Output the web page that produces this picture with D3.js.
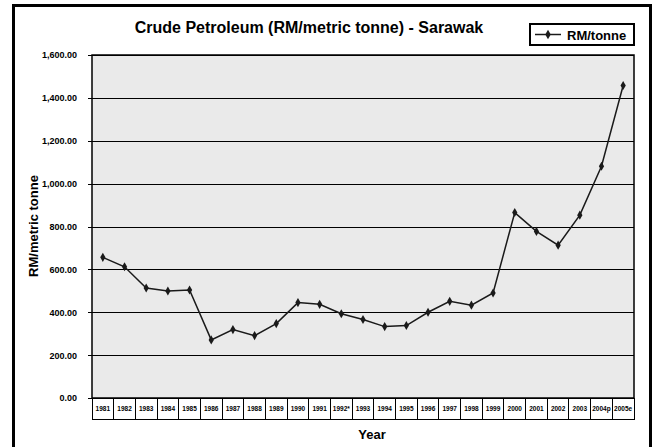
<!DOCTYPE html>
<html>
<head>
<meta charset="utf-8">
<script src="https://cdn.jsdelivr.net/npm/d3@7"></script>
<style>
body{margin:0;background:#fff;}
text{font-family:"Liberation Sans",Arial,sans-serif;font-weight:bold;fill:#000;}
</style>
</head>
<body>
<svg width="658" height="447"></svg>
<script>
// chart data
var years=['1981','1982','1983','1984','1985','1986','1987','1988','1989','1990',
	'1991','1992*','1993','1994','1995','1996','1997','1998','1999','2000',
	'2001','2002','2003','2004p','2005e'];
var prices=[656,612,513,499,504,271,319,291,347,445,
	437,393,366,333,338,400,451,433,490,865,
	777,713,853,1081,1458];
var yTicks=[0,200,400,600,800,1000,1200,1400,1600];

var pLeft=92, pRight=634, pTop=55, pBottom=398;
var svg=d3.select('svg');

// outer frame
svg.append('rect')
	.attr('x',13.5).attr('y',5.5)
	.attr('width',637).attr('height',460)
	.attr('fill','none').attr('stroke','#000').attr('stroke-width',3);

var xScale=d3.scaleBand()
	.domain(years)
	.range([pLeft,pRight])
	.padding(0);
var yScale=d3.scaleLinear()
	.domain([0,1600])
	.range([pBottom,pTop]);

// plot area
svg.append('rect')
	.attr('x',pLeft).attr('y',pTop)
	.attr('width',pRight-pLeft).attr('height',pBottom-pTop)
	.attr('fill','#eaeaea');

// gridlines
var grid=d3.axisLeft(yScale)
	.tickValues(yTicks)
	.tickSize(-(pRight-pLeft))
	.tickFormat('');
svg.append('g')
	.attr('transform','translate('+pLeft+',0)')
	.call(grid)
	.call(g=>g.select('.domain').remove())
	.call(g=>g.selectAll('line').attr('stroke','#000').attr('stroke-width',1).style('shape-rendering','crispEdges'));

// y axis with labels
var yAxis=d3.axisLeft(yScale)
	.tickValues(yTicks)
	.tickSize(4)
	.tickPadding(11)
	.tickFormat(d3.format(',.2f'));
svg.append('g')
	.attr('transform','translate('+pLeft+',0)')
	.call(yAxis)
	.call(g=>g.select('.domain').remove())
	.call(g=>g.selectAll('line').style('shape-rendering','crispEdges'))
	.call(g=>g.selectAll('text').style('font-size','9px').style('font-family','"Liberation Sans",Arial,sans-serif'));

// plot border
svg.append('rect')
	.attr('x',pLeft).attr('y',pTop)
	.attr('width',pRight-pLeft).attr('height',pBottom-pTop)
	.attr('fill','none').attr('stroke','#000').attr('stroke-width',1.5);

// category boxes
var cells=svg.append('g').selectAll('g')
	.data(years)
	.enter()
	.append('g');
cells.append('rect')
	.attr('x',d=>xScale(d))
	.attr('y',pBottom)
	.attr('width',xScale.bandwidth())
	.attr('height',21)
	.attr('fill','#fff')
	.attr('stroke','#000')
	.attr('stroke-width',1)
	.style('shape-rendering','crispEdges');
cells.append('text')
	.attr('x',d=>xScale(d)+xScale.bandwidth()/2)
	.attr('y',pBottom+13)
	.style('text-anchor','middle')
	.style('font-size','6.5px')
	.text(d=>d);

// line
var pts=years.map((y,i)=>({year:y,value:prices[i]}));
var line=d3.line()
	.x(d=>xScale(d.year)+xScale.bandwidth()/2)
	.y(d=>yScale(d.value));
svg.append('path')
	.datum(pts)
	.attr('d',line)
	.attr('fill','none')
	.attr('stroke','#1a1a1a')
	.attr('stroke-width',1.5);

svg.append('g').selectAll('path')
	.data(pts)
	.enter()
	.append('path')
	.attr('d',d3.symbol(d3.symbolDiamond,24))
	.attr('transform',d=>'translate('+(xScale(d.year)+xScale.bandwidth()/2)+','+yScale(d.value)+')')
	.attr('fill','#1a1a1a');

// title
svg.append('text')
	.attr('x',309)
	.attr('y',33)
	.style('text-anchor','middle')
	.style('font-size','16px')
	.text('Crude Petroleum (RM/metric tonne) - Sarawak');

// legend
var lg=svg.append('g');
lg.append('rect')
	.attr('x',530).attr('y',24)
	.attr('width',104).attr('height',21)
	.attr('fill','#fff').attr('stroke','#000').attr('stroke-width',2);
lg.append('line')
	.attr('x1',535).attr('x2',561).attr('y1',34.5).attr('y2',34.5)
	.attr('stroke','#1a1a1a').attr('stroke-width',1.5);
lg.append('path')
	.attr('d',d3.symbol(d3.symbolDiamond,26))
	.attr('transform','translate(548,34.5)')
	.attr('fill','#1a1a1a');
lg.append('text')
	.attr('x',567).attr('y',39.5)
	.style('font-size','13px')
	.text('RM/tonne');

// axis titles
svg.append('text')
	.attr('x',372)
	.attr('y',439)
	.style('text-anchor','middle')
	.style('font-size','13px')
	.text('Year');

svg.append('text')
	.attr('transform','rotate(-90)')
	.attr('x',-226)
	.attr('y',38)
	.style('text-anchor','middle')
	.style('font-size','13px')
	.text('RM/metric tonne');
</script>
</body>
</html>
